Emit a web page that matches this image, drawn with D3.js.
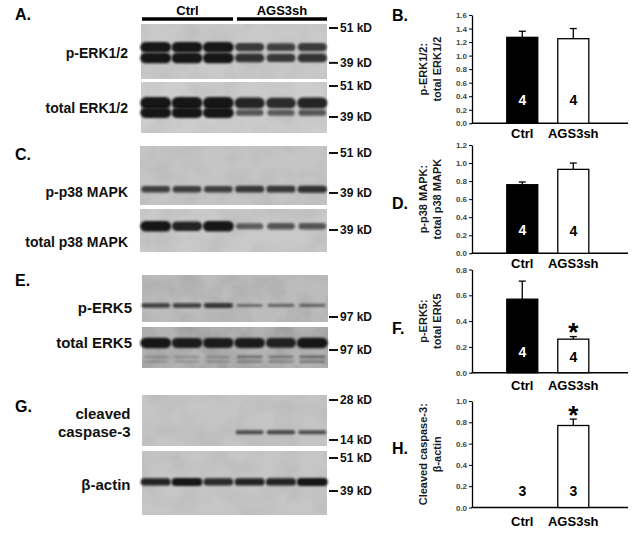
<!DOCTYPE html>
<html>
<head>
<meta charset="utf-8">
<script src="https://cdn.jsdelivr.net/npm/d3@7"></script>
<style>
  body { margin: 0; background: #fff; }
  text { font-family: "Liberation Sans", Arial, sans-serif; }
</style>
</head>
<body>
<svg id="fig"></svg>
<script>
// groups and lanes (3 control lanes, 3 knock-down lanes)
const groups = ["Ctrl", "AGS3sh"];
const lanes = [0, 1, 2, 3, 4, 5];

// band amounts per lane (relative 0-1)
const pErk44 = [1, 1, 1, 0.75, 0.7, 0.75];
const pErk42 = [1, 1, 1, 0.8, 0.75, 0.8];
const totErk44 = [1, 1, 1, 0.9, 0.85, 0.9];
const totErk42 = [1, 1, 1, 0.55, 0.5, 0.55];
const pP38 = [0.7, 0.7, 0.7, 0.75, 0.75, 0.8];
const totP38 = [1, 0.9, 1, 0.5, 0.55, 0.55];
const pErk5 = [0.7, 0.7, 0.75, 0.35, 0.4, 0.4];
const totErk5 = [1, 0.95, 0.95, 0.95, 0.9, 1];
const totErk5low1 = [0.12, 0.12, 0.12, 0.3, 0.25, 0.35];
const totErk5low2 = [0.08, 0.08, 0.08, 0.25, 0.2, 0.3];
const cleavedCasp3 = [0, 0, 0, 0.6, 0.65, 0.6];
const bActin = [0.9, 1, 0.85, 0.9, 0.9, 1];

// molecular weight markers (kD)
const markersErk = [51, 39];
const markersP38 = [51, 39];
const markersP38tot = [39];
const markersErk5 = [97];
const markersCasp = [28, 14];
const markersActin = [51, 39];

// quantification (mean, sem, n)
const erkMean = [1.27, 1.25], erkSem = [0.09, 0.15], erkN = [4, 4];
const p38Mean = [0.76, 0.93], p38Sem = [0.03, 0.07], p38N = [4, 4];
const erk5Mean = [0.57, 0.26], erk5Sem = [0.14, 0.02], erk5N = [4, 4];
const caspMean = [0, 0.77], caspSem = [0, 0.06], caspN = [3, 3];

const svg = d3.select('#fig').attr('width', 640).attr('height', 539);
const defs = svg.append('defs');
defs.append('filter').attr('id', 'soft')
  .attr('x', '-20%').attr('y', '-150%').attr('width', '140%').attr('height', '400%')
  .append('feGaussianBlur').attr('stdDeviation', 0.9);
const grain = defs.append('filter').attr('id', 'grain')
  .attr('x', 0).attr('y', 0).attr('width', '100%').attr('height', '100%');
grain.append('feTurbulence').attr('type', 'fractalNoise')
  .attr('baseFrequency', '0.04 0.04').attr('numOctaves', 3).attr('seed', 11);
grain.append('feColorMatrix').attr('type', 'matrix')
  .attr('values', '0 0 0 0 0  0 0 0 0 0  0 0 0 0 0  0.5 0 0 0 -0.18');

// lane positions shared by all blots
const xLane = d3.scaleBand().domain(lanes).range([141, 327]).paddingInner(0.06).paddingOuter(0);

function letter(t, x, y) {
  svg.append('text').attr('x', x).attr('y', y).text(t)
    .style('font-size', '16px').style('font-weight', 'bold');
}

function blot(b) {
  const g = svg.append('g');
  g.append('rect').attr('x', b.x).attr('y', b.y).attr('width', b.w).attr('height', b.h).attr('fill', b.bg);
  g.append('rect').attr('x', b.x).attr('y', b.y).attr('width', b.w).attr('height', b.h)
    .attr('filter', 'url(#grain)').attr('opacity', b.grain);

  // log scale for molecular weight -> y
  const yk = d3.scaleLog().domain([b.anchor[0], b.anchor[0] * Math.E])
    .range([b.anchor[1], b.anchor[1] - b.ppl]);

  b.bands.forEach(band => {
    const h = d3.scaleLinear().domain([0, 1]).range([1.5, band.maxH]);
    const op = d3.scaleLinear().domain([0, 1]).range([0.2, 1]);
    const w = d3.scaleLinear().domain([0, 1]).range([0.8, 1.05]);
    g.selectAll(null)
      .data(lanes.filter(i => band.amt[i] > 0))
      .join('rect')
      .attr('x', i => xLane(i) + xLane.bandwidth() / 2 - xLane.bandwidth() * w(band.amt[i]) / 2)
      .attr('y', i => yk(band.kd) - h(band.amt[i]) / 2)
      .attr('width', i => xLane.bandwidth() * w(band.amt[i]))
      .attr('height', i => h(band.amt[i]))
      .attr('rx', i => h(band.amt[i]) / 2)
      .attr('fill', '#161616')
      .attr('opacity', i => op(band.amt[i]))
      .attr('filter', 'url(#soft)');
  });

  // markers
  b.markers.forEach(kd => {
    g.append('line').attr('x1', 329).attr('x2', 338).attr('y1', yk(kd)).attr('y2', yk(kd))
      .attr('stroke', '#111').attr('stroke-width', 2);
    g.append('text').attr('x', 340).attr('y', yk(kd) + 4.3).text(kd + ' kD')
      .style('font-size', '12px').style('font-weight', 'bold').attr('fill', '#111');
  });

  b.label.forEach((t, k) => {
    g.append('text').attr('x', b.lx).attr('y', b.ly[k]).attr('text-anchor', 'end').text(t)
      .style('font-size', b.fs + 'px').style('font-weight', 'bold').attr('fill', '#111');
  });
}

// panel A header
letter('A.', 15, 20);
[[0, 2], [3, 5]].forEach((r, k) => {
  const x1 = xLane(r[0]) + (k ? 2 : 1), x2 = xLane(r[1]) + xLane.bandwidth();
  svg.append('line').attr('x1', x1).attr('x2', x2).attr('y1', 19).attr('y2', 19)
    .attr('stroke', '#000').attr('stroke-width', 3.5);
  svg.append('text').attr('x', (x1 + x2) / 2).attr('y', 14.5).attr('text-anchor', 'middle')
    .text(groups[k]).style('font-size', '13px').style('font-weight', 'bold');
});

letter('C.', 15, 160);
letter('E.', 15, 286);
letter('G.', 15, 412);

const blots = [
  { x: 141, y: 24, w: 186, h: 55, bg: '#c9c9c9', grain: 0.2, anchor: [51, 28], ppl: 130, markers: markersErk,
    label: ['p-ERK1/2'], lx: 128, ly: [58], fs: 14,
    bands: [{ kd: 44, amt: pErk44, maxH: 10.5 }, { kd: 40.5, amt: pErk42, maxH: 10.5 }] },
  { x: 141, y: 82, w: 186, h: 51, bg: '#cdcdcd', grain: 0.2, anchor: [51, 86], ppl: 115.5, markers: markersErk,
    label: ['total ERK1/2'], lx: 128, ly: [113], fs: 14,
    bands: [{ kd: 44, amt: totErk44, maxH: 12 }, { kd: 40.5, amt: totErk42, maxH: 10.5 }] },
  { x: 140, y: 146, w: 187, h: 59, bg: '#c5c5c5', grain: 0.2, anchor: [51, 153], ppl: 149, markers: markersP38,
    label: ['p-p38 MAPK'], lx: 128, ly: [197], fs: 14,
    bands: [{ kd: 40, amt: pP38, maxH: 8.5 }] },
  { x: 140, y: 209, w: 187, h: 43, bg: '#c9c9c9', grain: 0.2, anchor: [39, 230], ppl: 149, markers: markersP38tot,
    label: ['total p38 MAPK'], lx: 128, ly: [247], fs: 14,
    bands: [{ kd: 40, amt: totP38, maxH: 10.5 }] },
  { x: 142, y: 275, w: 186, h: 47, bg: '#bcbcbc', grain: 0.3, anchor: [97, 317], ppl: 130, markers: markersErk5,
    label: ['p-ERK5'], lx: 132, ly: [312.5], fs: 15,
    bands: [{ kd: 106, amt: pErk5, maxH: 6 }] },
  { x: 142, y: 327, w: 186, h: 41, bg: '#b3b3b3', grain: 0.5, anchor: [97, 350], ppl: 80, markers: markersErk5,
    label: ['total ERK5'], lx: 132, ly: [348], fs: 15,
    bands: [{ kd: 106, amt: totErk5, maxH: 10.5 }, { kd: 89, amt: totErk5low1, maxH: 5 }, { kd: 84, amt: totErk5low2, maxH: 4 }] },
  { x: 142, y: 395, w: 185, h: 51, bg: '#c5c5c5', grain: 0.2, anchor: [28, 400], ppl: 57.7, markers: markersCasp,
    label: ['cleaved', 'caspase-3'], lx: 130.5, ly: [418.5, 436.5], fs: 15,
    bands: [{ kd: 16, amt: cleavedCasp3, maxH: 5.5 }] },
  { x: 142, y: 451, w: 185, h: 64, bg: '#c6c6c6', grain: 0.2, anchor: [51, 458], ppl: 123, markers: markersActin,
    label: ['β-actin'], lx: 130.5, ly: [489.5], fs: 15,
    bands: [{ kd: 42, amt: bActin, maxH: 8 }] }
];
blots.forEach(blot);

// bar charts
function barChart(c) {
  const g = svg.append('g');
  const y = d3.scaleLinear().domain([0, c.max]).range([c.zero, c.top]);
  const x = d3.scaleBand().domain(groups).range([472, 628])
    .paddingInner(0.392).paddingOuter(0.725).align(0.47);

  const ax = g.append('g').attr('transform', 'translate(472,0)')
    .call(d3.axisLeft(y).tickValues(d3.range(0, c.max + 0.01, 0.2))
      .tickFormat(d3.format('.1f')).tickSize(3).tickSizeOuter(0).tickPadding(2));
  ax.select('.domain').attr('stroke', '#000').attr('stroke-width', 1.3);
  ax.selectAll('.tick line').attr('stroke', '#000');
  ax.selectAll('.tick text').attr('fill', '#444')
    .style('font-size', '8px').style('font-weight', 'bold').style('font-family', '"Liberation Sans", Arial, sans-serif');

  g.append('line').attr('x1', 471.5).attr('x2', 628).attr('y1', y(0)).attr('y2', y(0))
    .attr('stroke', '#000').attr('stroke-width', 1.5);

  const rows = groups.map((k, i) => ({ k, m: c.mean[i], s: c.sem[i], n: c.n[i], i }));

  // error bars (upper only)
  const eb = g.selectAll('.eb').data(rows.filter(d => d.m > 0)).join('g');
  eb.append('line').attr('x1', d => x(d.k) + x.bandwidth() / 2).attr('x2', d => x(d.k) + x.bandwidth() / 2)
    .attr('y1', d => y(d.m)).attr('y2', d => y(d.m + d.s)).attr('stroke', '#000').attr('stroke-width', 1.3);
  eb.append('line').attr('x1', d => x(d.k) + x.bandwidth() / 2 - 3.5).attr('x2', d => x(d.k) + x.bandwidth() / 2 + 3.5)
    .attr('y1', d => y(d.m + d.s)).attr('y2', d => y(d.m + d.s)).attr('stroke', '#000').attr('stroke-width', 1.3);

  g.selectAll('.bar').data(rows.filter(d => d.m > 0)).join('rect')
    .attr('x', d => x(d.k)).attr('y', d => y(d.m))
    .attr('width', x.bandwidth()).attr('height', d => y(0) - y(d.m))
    .attr('fill', d => d.i === 0 ? '#000' : '#fff')
    .attr('stroke', '#000').attr('stroke-width', 1.3);

  g.selectAll('.nlab').data(rows).join('text')
    .attr('x', d => x(d.k) + x.bandwidth() / 2).attr('y', d => y(0) - c.nOff[d.i])
    .attr('text-anchor', 'middle').text(d => d.n)
    .attr('fill', d => d.i === 0 && d.m > 0 ? '#fff' : '#000')
    .style('font-size', '14px').style('font-weight', 'bold');

  g.selectAll('.star').data(rows.filter((d, i) => c.sig[i])).join('text')
    .attr('x', d => x(d.k) + x.bandwidth() / 2).attr('y', c.starY)
    .attr('text-anchor', 'middle').text('*')
    .style('font-size', '26px').style('font-weight', 'bold');

  g.selectAll('.cat').data(groups).join('text')
    .attr('x', d => x(d) + x.bandwidth() / 2).attr('y', c.catY)
    .attr('text-anchor', 'middle').text(d => d)
    .style('font-size', '13px').style('font-weight', 'bold');

  const cy = (c.top + c.zero) / 2;
  c.title.forEach((t, k) => {
    g.append('text').attr('transform', `translate(${423 + k * 14},${cy}) rotate(-90)`)
      .attr('text-anchor', 'middle').attr('dominant-baseline', 'central').text(t)
      .style('font-size', '11px').style('font-weight', 'bold').attr('fill', '#1a1a1a');
  });

  letter(c.letter, 392, c.letterY);
}

barChart({ letter: 'B.', letterY: 21, title: ['p-ERK1/2:', 'total ERK1/2'], top: 15, zero: 123.3, max: 1.6,
  mean: erkMean, sem: erkSem, n: erkN, sig: [false, false], nOff: [18, 18], catY: 138, starY: 0 });
barChart({ letter: 'D.', letterY: 209, title: ['p-p38 MAPK:', 'total p38 MAPK'], top: 145, zero: 253.3, max: 1.2,
  mean: p38Mean, sem: p38Sem, n: p38N, sig: [false, false], nOff: [18, 17], catY: 267.5, starY: 0 });
barChart({ letter: 'F.', letterY: 334, title: ['p-ERK5:', 'total ERK5'], top: 269.5, zero: 372.7, max: 0.8,
  mean: erk5Mean, sem: erk5Sem, n: erk5N, sig: [false, true], nOff: [16, 11], catY: 389.5, starY: 341 });
barChart({ letter: 'H.', letterY: 454, title: ['Cleaved caspase-3:', 'β-actin'], top: 401, zero: 507.5, max: 1.0,
  mean: caspMean, sem: caspSem, n: caspN, sig: [false, true], nOff: [11.5, 11.5], catY: 525.5, starY: 424 });
</script>
</body>
</html>
